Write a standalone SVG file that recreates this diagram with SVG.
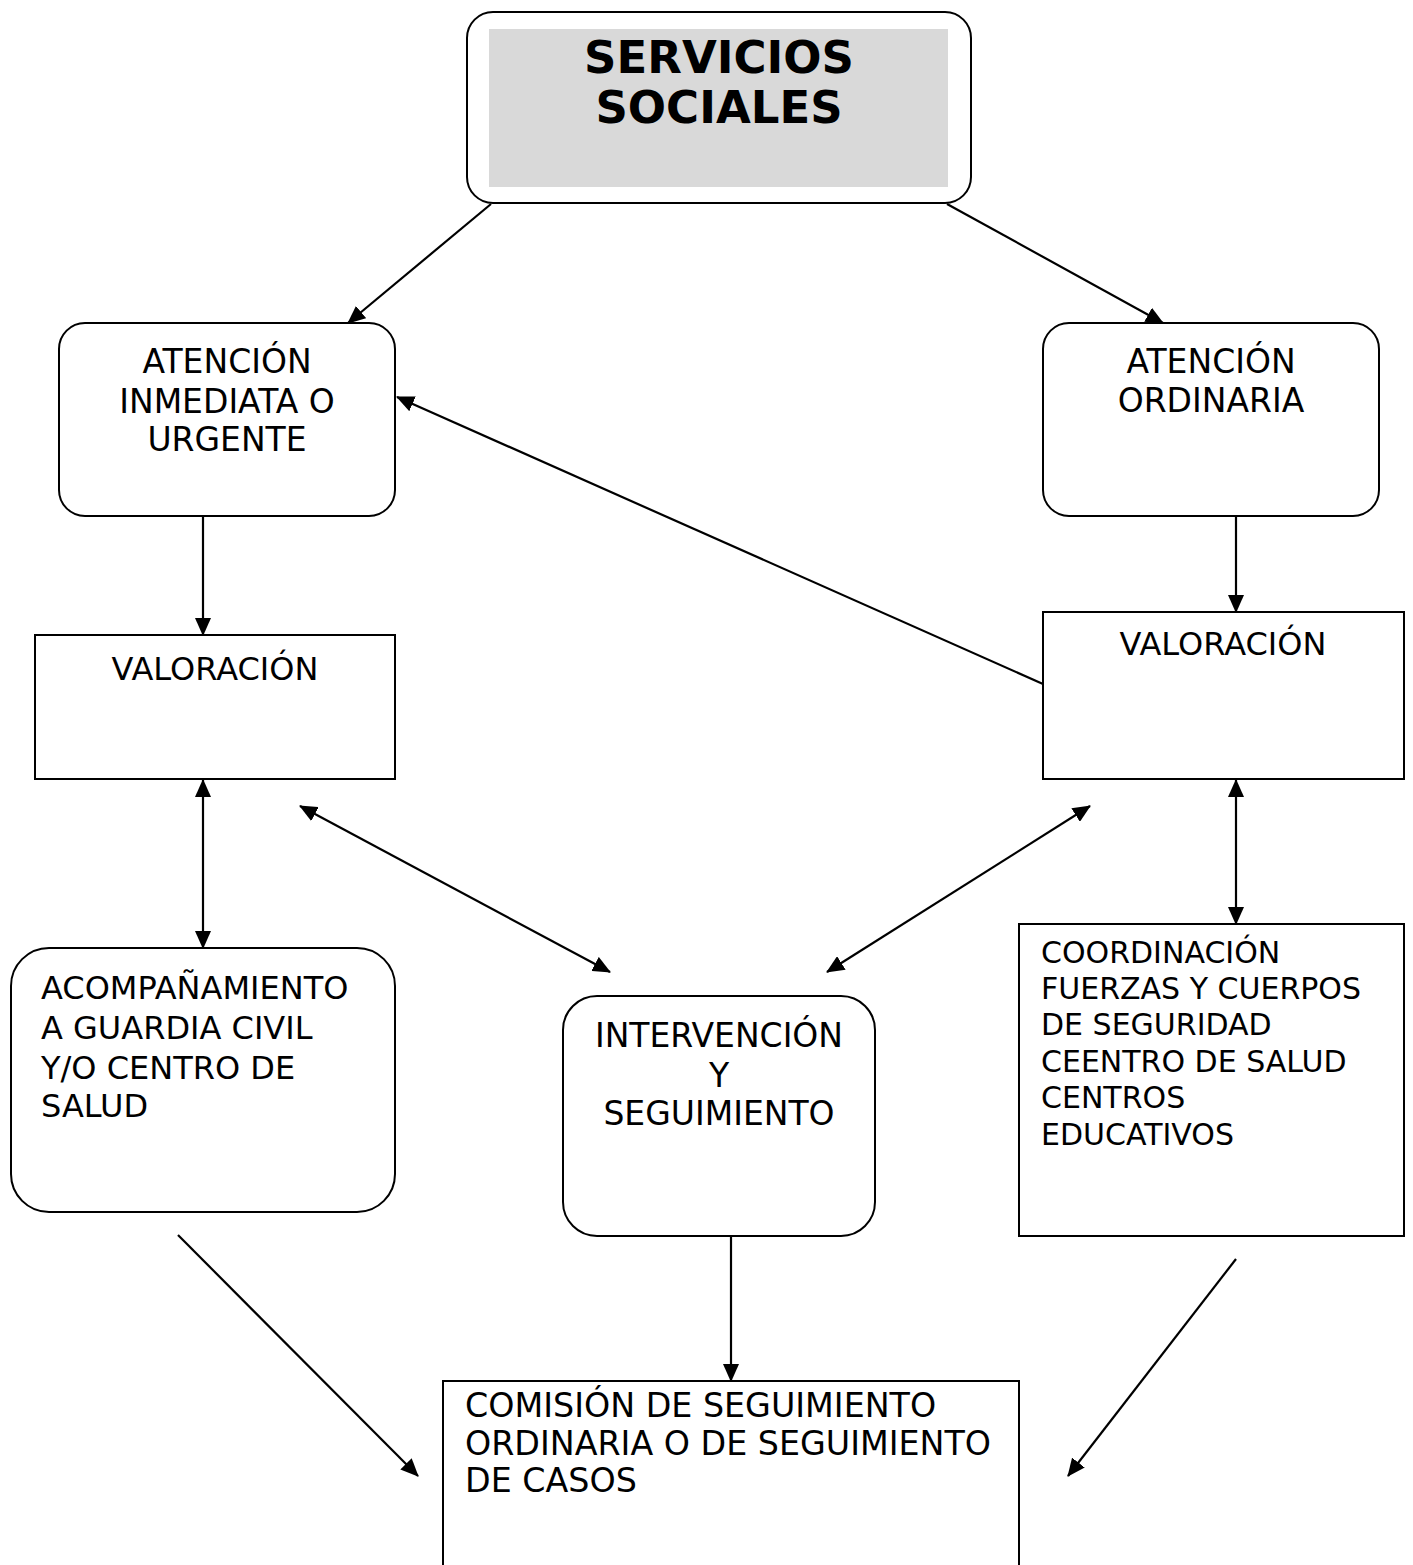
<svg xmlns="http://www.w3.org/2000/svg" width="1413" height="1565" viewBox="0 0 1413 1565">
<style>
.box{fill:#fff;stroke:#000;stroke-width:2}
.t{font-family:"DejaVu Sans","Verdana",sans-serif;font-size:32px;fill:#000}
.t33{font-size:33px}
.c{text-anchor:middle}
.title{font-family:"DejaVu Sans","Verdana",sans-serif;font-size:45px;font-weight:bold;text-anchor:middle;fill:#000}
.con line{stroke:#000;stroke-width:2.2;fill:none}
</style>
<defs>
<marker id="ah" markerUnits="userSpaceOnUse" markerWidth="18" markerHeight="16" refX="17" refY="8" orient="auto-start-reverse">
<path d="M0,0 L18,8 L0,16 z" fill="#000"/>
</marker>
</defs>
<rect width="1413" height="1565" fill="#fff"/>

<g id="servicios">
<rect class="box" x="467" y="12" width="504" height="191" rx="26"/>
<rect x="489" y="29" width="459" height="158" fill="#d9d9d9"/>
<text class="title" x="719" y="73">SERVICIOS</text>
<text class="title" x="719" y="123">SOCIALES</text>
</g>

<g id="atencion-inmediata">
<rect class="box" x="59" y="323" width="336" height="193" rx="26"/>
<text class="t t33 c" x="227" y="373">ATENCIÓN</text>
<text class="t t33 c" x="227" y="413">INMEDIATA O</text>
<text class="t t33 c" x="227" y="451">URGENTE</text>
</g>

<g id="atencion-ordinaria">
<rect class="box" x="1043" y="323" width="336" height="193" rx="26"/>
<text class="t t33 c" x="1211" y="373">ATENCIÓN</text>
<text class="t t33 c" x="1211" y="412">ORDINARIA</text>
</g>

<g id="valoracion-izq">
<rect class="box" x="35" y="635" width="360" height="144"/>
<text class="t c" x="215" y="680">VALORACIÓN</text>
</g>

<g id="valoracion-der">
<rect class="box" x="1043" y="612" width="361" height="167"/>
<text class="t c" x="1223" y="655">VALORACIÓN</text>
</g>

<g id="acompanamiento">
<rect class="box" x="11" y="948" width="384" height="264" rx="38"/>
<text class="t" x="41" y="999">ACOMPAÑAMIENTO</text>
<text class="t" x="41" y="1039">A GUARDIA CIVIL</text>
<text class="t" x="41" y="1079">Y/O CENTRO DE</text>
<text class="t" x="41" y="1117">SALUD</text>
</g>

<g id="intervencion">
<rect class="box" x="563" y="996" width="312" height="240" rx="34"/>
<text class="t t33 c" x="719" y="1047">INTERVENCIÓN</text>
<text class="t t33 c" x="719" y="1087">Y</text>
<text class="t t33 c" x="719" y="1125">SEGUIMIENTO</text>
</g>

<g id="coordinacion">
<rect class="box" x="1019" y="924" width="385" height="312"/>
<text class="t" x="1041" y="963" style="font-size:30px">COORDINACIÓN</text>
<text class="t" x="1041" y="999" style="font-size:30px">FUERZAS Y CUERPOS</text>
<text class="t" x="1041" y="1035" style="font-size:30px">DE SEGURIDAD</text>
<text class="t" x="1041" y="1072" style="font-size:30px">CEENTRO DE SALUD</text>
<text class="t" x="1041" y="1108" style="font-size:30px">CENTROS</text>
<text class="t" x="1041" y="1145" style="font-size:30px">EDUCATIVOS</text>
</g>

<g id="comision">
<rect class="box" x="443" y="1381" width="576" height="200"/>
<text class="t" x="465" y="1417" style="font-size:33.3px">COMISIÓN DE SEGUIMIENTO</text>
<text class="t" x="465" y="1455" style="font-size:33.3px">ORDINARIA O DE SEGUIMIENTO</text>
<text class="t" x="465" y="1492" style="font-size:33.3px">DE CASOS</text>
</g>

<g id="connectors" class="con">
<line x1="491" y1="204" x2="348" y2="323" marker-end="url(#ah)"/>
<line x1="947" y1="204" x2="1163" y2="323" marker-end="url(#ah)"/>
<line x1="1043" y1="684" x2="397" y2="397" marker-end="url(#ah)"/>
<line x1="203" y1="516" x2="203" y2="635" marker-end="url(#ah)"/>
<line x1="1236" y1="516" x2="1236" y2="612" marker-end="url(#ah)"/>
<line x1="203" y1="780" x2="203" y2="948" marker-start="url(#ah)" marker-end="url(#ah)"/>
<line x1="300" y1="806" x2="610" y2="972" marker-start="url(#ah)" marker-end="url(#ah)"/>
<line x1="1090" y1="806" x2="827" y2="972" marker-start="url(#ah)" marker-end="url(#ah)"/>
<line x1="1236" y1="780" x2="1236" y2="924" marker-start="url(#ah)" marker-end="url(#ah)"/>
<line x1="731" y1="1236" x2="731" y2="1381" marker-end="url(#ah)"/>
<line x1="178" y1="1235" x2="418" y2="1476" marker-end="url(#ah)"/>
<line x1="1236" y1="1259" x2="1068" y2="1476" marker-end="url(#ah)"/>
</g>
</svg>
